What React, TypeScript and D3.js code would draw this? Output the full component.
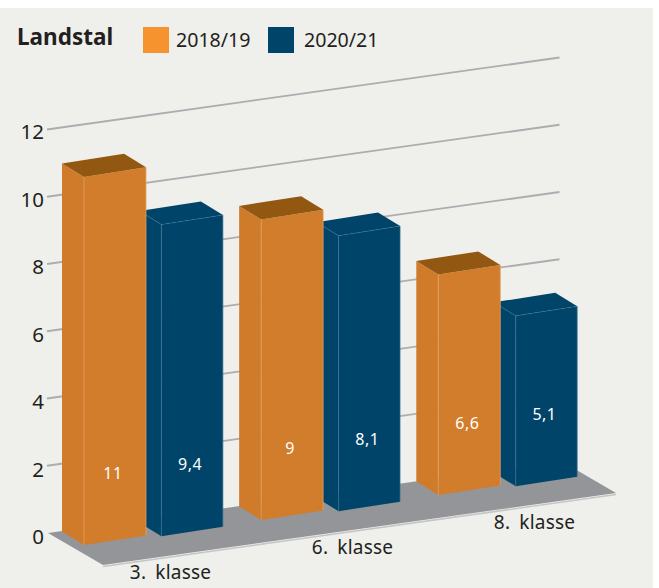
import React from "react";
import * as d3 from "d3";

const title = "Landstal";
const categories = ["3. klasse", "6. klasse", "8. klasse"];
const seriesNames = ["2018/19", "2020/21"];
const values2018 = [11.02, 9.0, 6.6];
const values2020 = [9.33, 8.25, 5.1];
const labels2018 = ["11", "9", "6,6"];
const labels2020 = ["9,4", "8,1", "5,1"];
const yTicks = [0, 2, 4, 6, 8, 10, 12];

const FONT = "'Noto Sans', sans-serif";
const TEXT = "#231F20";
const BG = "#EFEFEB";
const GRID = "#ADADB1";
const FLOOR = "#939598";

const styles = [
  { front: "#D27D2B", side: "#D07B2A", top: "#925710", edge: "#E3A468", swatch: "#F7932F", bw: 62 },
  { front: "#00446A", side: "#00446A", top: "#00446A", edge: "#3F7590", swatch: "#00446A", bw: 61.5 },
];

const DEPTH_X = 22;
const DEPTH_Y = 13.5;
const SKEW = 0.155;

const catIndex = d3.scalePoint<string>().domain(categories).range([0, 2]);
const xFront = d3.scaleLinear().domain([0, 2]).range([84, 438.3]);
const yBase = d3.scaleLinear().domain([0, 2]).range([545, 495]);
const xSeries = d3.scalePoint<string>().domain(seriesNames).range([0, 77.4]);
const ySeries = d3.scalePoint<string>().domain(seriesNames).range([0, -8.8]);
const barH = d3.scaleLinear().domain([0, 12]).range([0, 400.8]);
const gridY = d3.scaleLinear().domain([0, 12]).range([533, 129.5]);
const tickLabelY = d3.scaleLinear().domain([0, 12]).range([536, 131]);
const catLabelX = d3.scaleLinear().domain([0, 2]).range([170.5, 534.5]);
const catLabelY = d3.scaleLinear().domain([0, 2]).range([579, 528.5]);

const poly = (pts: [number, number][]) => d3.line()(pts) + "Z";

function Bar({ cat, s, value, label }: { cat: string; s: number; value: number; label: string }) {
  const st = styles[s];
  const name = seriesNames[s];
  const i = catIndex(cat)!;
  const x = xFront(i) + xSeries(name)!;
  const yb = yBase(i) + ySeries(name)!;
  const h = barH(value);
  const w = st.bw;
  const dy = w * SKEW;
  const yt = yb - h;
  const front: [number, number][] = [[x, yt], [x + w, yt - dy], [x + w, yb - dy], [x, yb]];
  const side: [number, number][] = [[x - DEPTH_X, yt - DEPTH_Y], [x, yt], [x, yb], [x - DEPTH_X, yb - DEPTH_Y]];
  const top: [number, number][] = [
    [x - DEPTH_X, yt - DEPTH_Y],
    [x - DEPTH_X + w, yt - DEPTH_Y - dy],
    [x + w, yt - dy],
    [x, yt],
  ];
  return (
    <g>
      <path d={poly(side)} fill={st.side} />
      <path d={poly(front)} fill={st.front} />
      <path d={poly(top)} fill={st.top} />
      <path
        d={d3.line()([[x - DEPTH_X, yt - DEPTH_Y], [x, yt], [x + w, yt - dy]])!}
        fill="none"
        stroke={st.edge}
        strokeWidth={0.6}
        strokeDasharray="5 1"
        opacity={s === 0 ? 0 : 0.8}
      />
      <path d={d3.line()([[x, yt], [x, yb]])!} fill="none" stroke={st.edge} strokeWidth={0.7} />
      <path d={d3.line()([[x + w, yt - dy], [x + w, yb - dy]])!} fill="none" stroke={st.edge} strokeWidth={0.7} />
      <text
        x={x + w / 2 - 2}
        y={yb - dy / 2 - 67}
        fill="#fff"
        fontSize={16}
        letterSpacing={0.5}
        textAnchor="middle"
        dominantBaseline="central"
        fontFamily={FONT}
      >
        {label}
      </text>
    </g>
  );
}

export default function App() {
  const floor: [number, number][] = [[48, 533], [103, 565], [616, 493], [561, 461]];
  return (
    <svg
      width={659}
      height={588}
      style={{ position: "absolute", left: 0, top: 0, display: "block" }}
    >
      <rect x={0} y={8} width={653} height={580} fill={BG} />

      <text x={17} y={45} fontFamily={FONT} fontWeight={700} fontSize={22.5} fill={TEXT}>
        {title}
      </text>
      {seriesNames.map((n, i) => {
        const sx = i === 0 ? 143 : 268;
        return (
          <g key={n}>
            <rect x={sx} y={27} width={26} height={26} fill={styles[i].swatch} />
            <text x={sx + (i === 0 ? 33 : 36)} y={47} fontFamily={FONT} fontSize={19.6} fill={TEXT}>
              {n}
            </text>
          </g>
        );
      })}

      {yTicks.filter((t) => t > 0).map((t) => (
        <line
          key={t}
          x1={47}
          y1={gridY(t)}
          x2={559.5}
          y2={gridY(t) - 72}
          stroke={GRID}
          strokeWidth={1.8}
        />
      ))}
      {yTicks.map((t) => (
        <text
          key={t}
          x={44}
          y={tickLabelY(t)}
          textAnchor="end"
          dominantBaseline="central"
          fontFamily={FONT}
          fontSize={20.5}
          fill={TEXT}
        >
          {t}
        </text>
      ))}

      <path
        d={d3.line()([[103, 566.5], [616, 494.5]])!}
        stroke="#C4C5C7"
        strokeWidth={1.5}
        fill="none"
      />
      <path d={poly(floor)} fill={FLOOR} />

      {categories.map((c, i) => (
        <Bar key={c} cat={c} s={1} value={values2020[i]} label={labels2020[i]} />
      ))}
      {categories.map((c, i) => (
        <Bar key={c} cat={c} s={0} value={values2018[i]} label={labels2018[i]} />
      ))}

      {categories.map((c, i) => (
        <text
          key={c}
          x={catLabelX(i)}
          y={catLabelY(i)}
          fontFamily={FONT}
          fontSize={19}
          wordSpacing={4}
          letterSpacing={0.2}
          fill={TEXT}
          textAnchor="middle"
        >
          {c}
        </text>
      ))}
    </svg>
  );
}
